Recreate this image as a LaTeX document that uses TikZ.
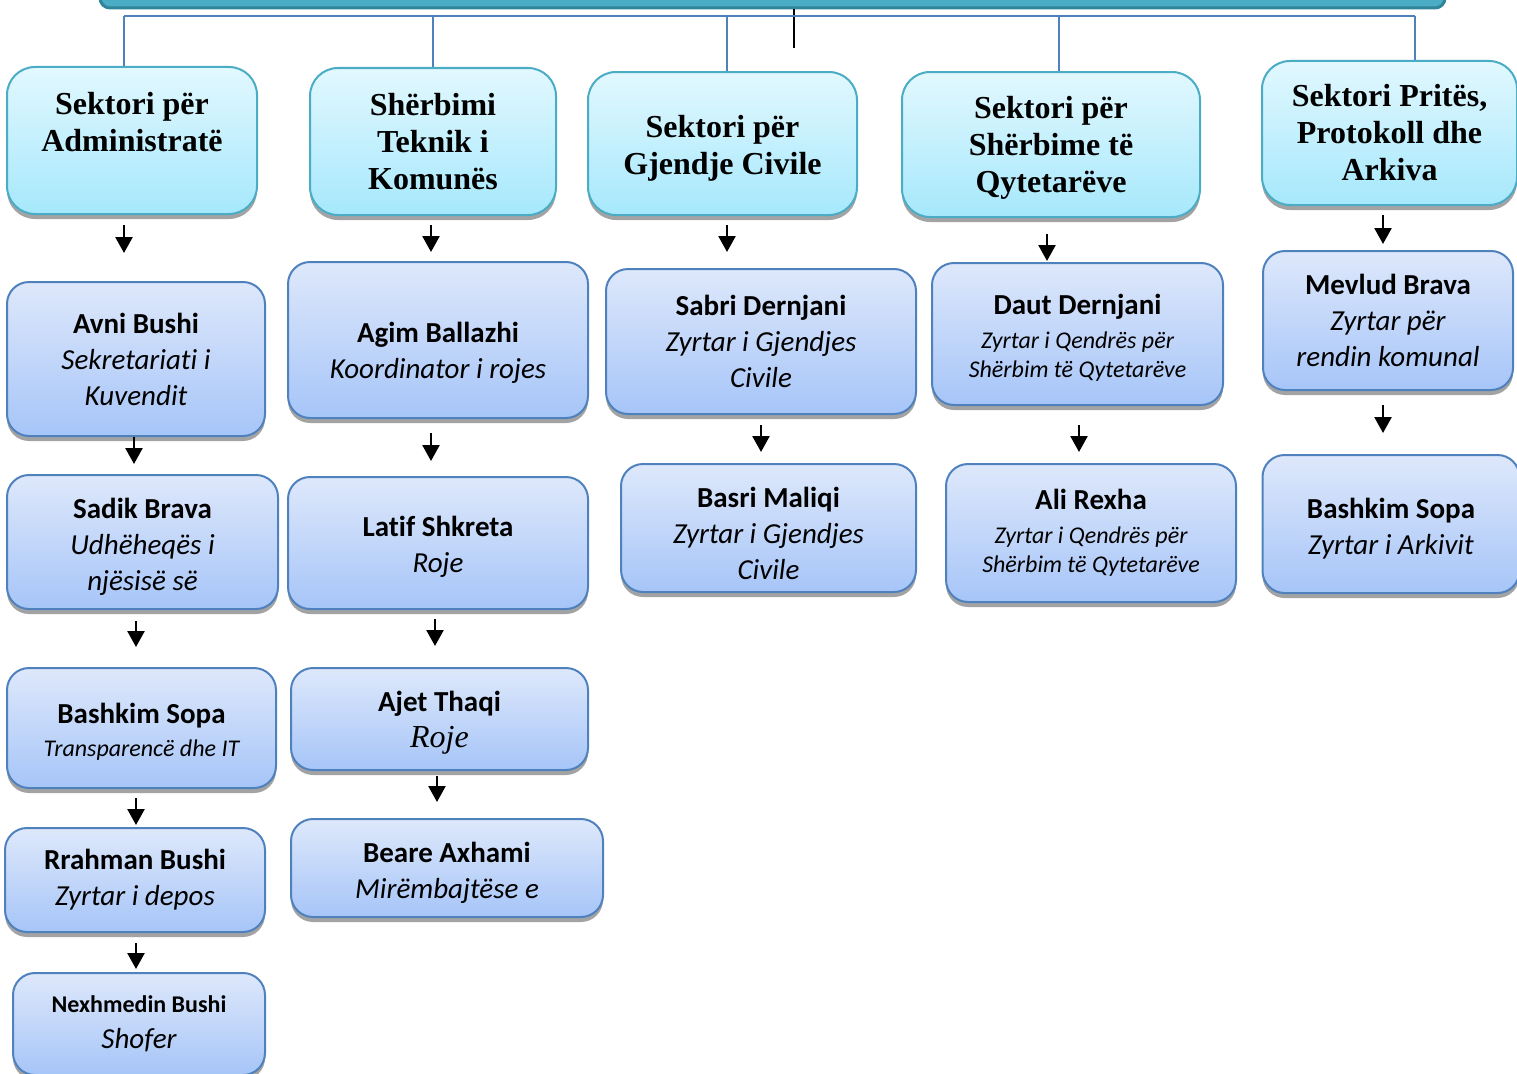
\documentclass[tikz,border=0pt]{standalone}
\usepackage{fontspec}
\setmainfont{Carlito}[Ligatures=CommonOff]
\newfontfamily\sectorfont{Liberation Serif}
\usetikzlibrary{arrows.meta,shadows}

\definecolor{barfill}{RGB}{75,172,198}
\definecolor{baredge}{RGB}{49,133,155}
\definecolor{cyanedge}{RGB}{75,172,198}
\definecolor{cyantop}{RGB}{226,248,254}
\definecolor{cyanbot}{RGB}{166,232,252}
\definecolor{blueedge}{RGB}{79,129,189}
\definecolor{bluetop}{RGB}{222,232,251}
\definecolor{bluebot}{RGB}{166,197,248}

\newcommand\smallline{\fontsize{24}{29}\selectfont}

\tikzset{
  boxshadow/.style={drop shadow={shadow xshift=0pt, shadow yshift=-5pt, fill=black!45, opacity=.8}},
  sector/.style={draw=cyanedge, line width=2pt, rounded corners=28pt,
    top color=cyantop, bottom color=cyanbot, boxshadow, align=center, inner sep=0pt,
    font=\sectorfont\bfseries\fontsize{32}{37}\selectfont},
  person/.style={draw=blueedge, line width=2pt, rounded corners=22pt,
    top color=bluetop, bottom color=bluebot, boxshadow, align=center, inner sep=0pt,
    font=\fontsize{29}{36}\selectfont},
  arrow/.style={draw=black, line width=2.5pt, -{Triangle[length=16pt,width=17pt]}},
  link/.style={draw=blueedge, line width=1.8pt},
  bar/.style={draw=baredge, line width=3pt, fill=barfill, rounded corners=10pt},
}

\begin{document}
\begin{tikzpicture}[x=1pt,y=-1pt]
    \useasboundingbox (0,0) rectangle (1517,1073);

    % top of the chart
    \node[bar, minimum width=1345pt, minimum height=48pt] (council) at (772.5,-16) {};
    \coordinate (stub) at (794,48);
    \draw[line width=1.5pt] (council.south -| stub) -- (stub);

    % sectors
    \node[sector, minimum width=250pt, minimum height=147pt] (adm) at (132,140.5)
        {Sektori për\\Administratë\\~};
    \node[sector, minimum width=246pt, minimum height=147pt] (tek) at (433,141.5)
        {Shërbimi\\Teknik i\\Komunës};
    \node[sector, minimum width=269pt, minimum height=143pt] (gjc) at (722.5,143.5)
        {\rule{0pt}{32pt}Sektori për\\Gjendje Civile};
    \node[sector, minimum width=298pt, minimum height=145pt] (qyt) at (1051,144.5)
        {\rule{0pt}{28pt}Sektori për\\Shërbime të\\Qytetarëve};
    \node[sector, minimum width=255pt, minimum height=144pt] (ark) at (1389.5,133)
        {Sektori Pritës,\\Protokoll dhe\\Arkiva};

    % blue tree
    \coordinate (bus) at (0,16);
    \draw[link] (bus -| 124,0) -- (bus -| 1415,0);
    \foreach \s/\x in {adm/124,tek/433,gjc/727,qyt/1059,ark/1415}
        \draw[link] (bus -| \x,0) -- (\s.north -| \x,0);

    % first column
    \node[person, minimum width=258pt, minimum height=154pt] (avni) at (136,359)
        {\textbf{Avni Bushi}\\\itshape Sekretariati i\\\itshape Kuvendit};
    \node[person, minimum width=271pt, minimum height=134pt] (sadik) at (142.5,542)
        {\rule{0pt}{30pt}\textbf{Sadik Brava}\\\itshape Udhëheqës i\\\itshape njësisë së};
    \node[person, minimum width=269pt, minimum height=120pt] (bsopa) at (141.5,728)
        {\rule{0pt}{28pt}\textbf{Bashkim Sopa}\\[-3pt]{\smallline\itshape Transparencë dhe IT}};
    \node[person, minimum width=260pt, minimum height=104pt] (rrah) at (135,880)
        {\textbf{Rrahman Bushi}\\\itshape Zyrtar i depos};
    \node[person, minimum width=252pt, minimum height=102pt] (nexh) at (139,1024)
        {{\smallline\bfseries Nexhmedin Bushi}\\\itshape Shofer};

    % second column
    \node[person, minimum width=300pt, minimum height=156pt] (agim) at (438,340)
        {\rule{0pt}{46pt}\textbf{Agim Ballazhi}\\\itshape Koordinator i rojes};
    \node[person, minimum width=300pt, minimum height=132pt] (latif) at (438,543)
        {\rule{0pt}{28pt}\textbf{Latif Shkreta}\\\itshape Roje};
    \node[person, minimum width=297pt, minimum height=102pt] (ajet) at (439.5,719)
        {\rule{0pt}{28pt}\textbf{Ajet Thaqi}\\{\sectorfont\itshape\fontsize{32}{37}\selectfont Roje}};
    \node[person, minimum width=312pt, minimum height=98pt] (beare) at (447,868)
        {\rule{0pt}{30pt}\textbf{Beare Axhami}\\\itshape Mirëmbajtëse e};

    % third column
    \node[person, minimum width=310pt, minimum height=145pt] (sabri) at (761,341.5)
        {\textbf{Sabri Dernjani}\\\itshape Zyrtar i Gjendjes\\\itshape Civile};
    \node[person, minimum width=295pt, minimum height=128pt] (basri) at (768.5,528)
        {\rule{0pt}{32pt}\textbf{Basri Maliqi}\\\itshape Zyrtar i Gjendjes\\\itshape Civile};

    % fourth column
    \node[person, minimum width=291pt, minimum height=142pt] (daut) at (1077.5,334)
        {\rule{0pt}{28pt}\textbf{Daut Dernjani}\\[-2pt]{\smallline\itshape Zyrtar i Qendrës për}\\[-7pt]
         {\smallline\itshape Shërbim të Qytetarëve}};
    \node[person, minimum width=290pt, minimum height=138pt] (ali) at (1091,533)
        {\textbf{Ali Rexha}\\[-2pt]{\smallline\itshape Zyrtar i Qendrës për}\\[-7pt]
         {\smallline\itshape Shërbim të Qytetarëve}};

    % fifth column
    \node[person, minimum width=250pt, minimum height=139pt] (mev) at (1388,320.5)
        {\textbf{Mevlud Brava}\\\itshape Zyrtar për\\\itshape rendin komunal};
    \node[person, minimum width=257pt, minimum height=138pt] (bsopb) at (1391,524)
        {\rule{0pt}{30pt}\textbf{Bashkim Sopa}\\\itshape Zyrtar i Arkivit};

    % arrows down each column
    \foreach \a/\b/\x/\s/\e in {adm/avni/124/10/28, avni/sadik/134/0/10, sadik/bsopa/136/11/20,
        bsopa/rrah/136/9/2, rrah/nexh/136/10/3, tek/agim/431/9/9, agim/latif/431/14/15,
        latif/ajet/435/9/21, ajet/beare/437/5/16, gjc/sabri/727/9/16, sabri/basri/761/10/11,
        qyt/daut/1047/16/1, daut/ali/1079/19/11, ark/mev/1383/9/6, mev/bsopb/1383/14/21}
        \draw[arrow, shorten <=\s pt, shorten >=\e pt] (\a.south -| \x,0) -- (\b.north -| \x,0);
\end{tikzpicture}
\end{document}
